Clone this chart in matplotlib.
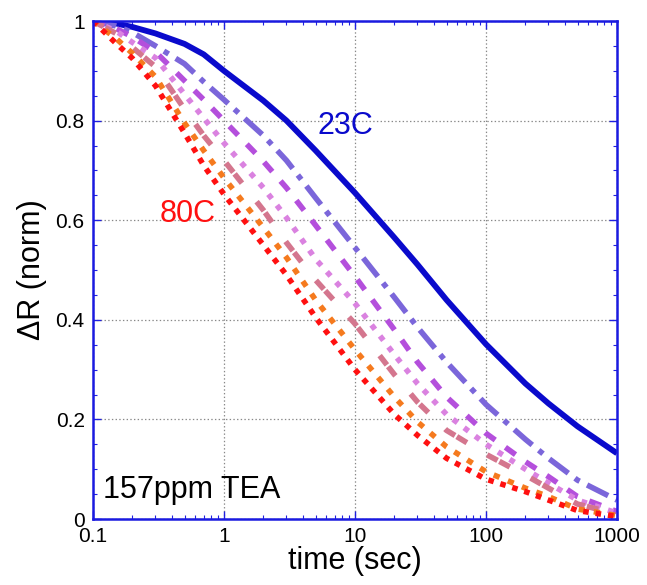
import matplotlib
matplotlib.use("Agg")
import matplotlib.pyplot as plt
from matplotlib.ticker import FixedLocator, FixedFormatter, LogLocator, NullFormatter, MultipleLocator

plt.rcParams['font.family'] = ['Liberation Sans', 'DejaVu Sans']
plt.rcParams['lines.scale_dashes'] = False

# time points (sec)
t = [0.1, 0.15, 0.2, 0.3, 0.5, 0.7, 1, 2, 3, 5, 10, 20, 30, 50, 100, 200, 300, 500, 1000]

# normalised response per temperature, 23C (top) ... 80C (bottom)
r_23C = [1.0, 0.995, 0.988, 0.975, 0.954, 0.933, 0.90, 0.84, 0.80, 0.74, 0.655, 0.565, 0.511, 0.44, 0.351, 0.272, 0.232, 0.186, 0.132]
r_2 = [1.0, 0.99, 0.977, 0.95, 0.914, 0.878, 0.842, 0.77, 0.72, 0.645, 0.545, 0.445, 0.385, 0.315, 0.23, 0.16, 0.122, 0.078, 0.038]
r_3 = [1.0, 0.985, 0.968, 0.938, 0.88, 0.842, 0.80, 0.718, 0.665, 0.59, 0.487, 0.38, 0.315, 0.245, 0.172, 0.115, 0.085, 0.045, 0.015]
r_4 = [1.0, 0.98, 0.957, 0.926, 0.853, 0.805, 0.755, 0.665, 0.605, 0.522, 0.433, 0.33, 0.272, 0.21, 0.15, 0.10, 0.072, 0.038, 0.012]
r_5 = [1.0, 0.975, 0.947, 0.908, 0.823, 0.77, 0.72, 0.62, 0.555, 0.48, 0.392, 0.29, 0.235, 0.178, 0.13, 0.088, 0.062, 0.030, 0.010]
r_6 = [1.0, 0.965, 0.935, 0.888, 0.795, 0.74, 0.685, 0.585, 0.525, 0.44, 0.34, 0.245, 0.195, 0.145, 0.095, 0.062, 0.045, 0.020, 0.007]
r_80C = [1.0, 0.955, 0.925, 0.87, 0.775, 0.71, 0.652, 0.55, 0.49, 0.405, 0.30, 0.21, 0.168, 0.122, 0.08, 0.055, 0.038, 0.017, 0.005]

series = [r_23C, r_2, r_3, r_4, r_5, r_6, r_80C]
colors = ['#0A0ACC', '#7B66DA', '#B44FDC', '#DA82E0', '#D4768E', '#F57A1E', '#FF1010']
dashes = [None, (17, 6, 4, 6), (9, 9), (4, 6), (8.5, 1.5, 8.5, 17), (4.5, 6.5), (4, 5)]

fig = plt.figure(figsize=(6.47, 5.85), dpi=100)
ax = fig.add_axes([0.1437, 0.1128, 0.8099, 0.8513])

for y, c, d in zip(series, colors, dashes):
    if d is None:
        ax.plot(t, y, color=c, lw=4.2, solid_capstyle='butt', solid_joinstyle='round')
    else:
        ax.plot(t, y, color=c, lw=4.0, dashes=d, dash_capstyle='butt')

ax.set_xscale('log')
ax.set_xlim(0.1, 1000)
ax.set_ylim(0, 1)

ax.xaxis.set_major_locator(FixedLocator([0.1, 1, 10, 100, 1000]))
ax.xaxis.set_major_formatter(FixedFormatter(['0.1', '1', '10', '100', '1000']))
ax.xaxis.set_minor_locator(LogLocator(base=10, subs=range(2, 10)))
ax.xaxis.set_minor_formatter(NullFormatter())
ax.yaxis.set_major_locator(FixedLocator([0, 0.2, 0.4, 0.6, 0.8, 1.0]))
ax.yaxis.set_major_formatter(FixedFormatter(['0', '0.2', '0.4', '0.6', '0.8', '1']))
ax.yaxis.set_minor_locator(MultipleLocator(0.05))

ax.tick_params(which='both', direction='in', top=True, right=True, color='#2020E0',
               labelsize=15, pad=6, labelcolor='black')
ax.tick_params(which='major', length=6, width=1)
ax.tick_params(which='minor', length=3, width=0.8)

for s in ax.spines.values():
    s.set_color('#1A1AE0')
    s.set_linewidth(1.8)

ax.grid(True, which='major', color='#888888', ls=':', lw=0.9)
ax.set_axisbelow(True)

ax.set_xlabel('time (sec)', fontsize=22, labelpad=0)
ax.set_ylabel('ΔR (norm)', fontsize=22, labelpad=6)

ax.text(5.2, 0.79, '23C', color='#0A0ACC', fontsize=22, va='center')
ax.text(0.325, 0.613, '80C', color='#FF1010', fontsize=22, va='center')
ax.text(0.12, 0.058, '157ppm TEA', color='black', fontsize=22, va='center')

fig.savefig('out.png', dpi=100)
